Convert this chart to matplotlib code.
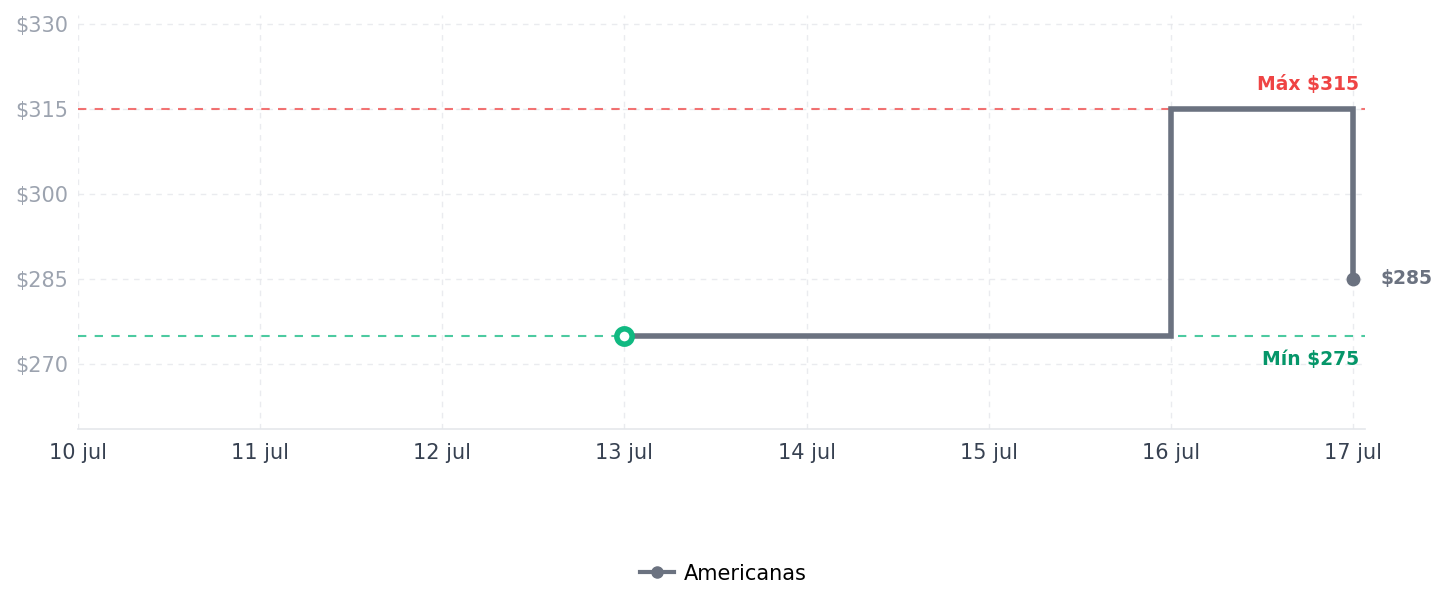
import matplotlib.pyplot as plt
import matplotlib.dates as mdates
from datetime import datetime

# Dados
dates = [datetime(2024, 7, 13), datetime(2024, 7, 16), datetime(2024, 7, 17)]
prices = [275, 315, 285]
store = 'Americanas'
max_price = 315
min_price = 275
min_date = datetime(2024, 7, 13)
x_ticks = [datetime(2024, 7, d) for d in range(10, 18)]
x_labels = ['10 jul', '11 jul', '12 jul', '13 jul', '14 jul', '15 jul', '16 jul', '17 jul']
y_ticks = [270, 285, 300, 315, 330]


def main():
    fig = plt.figure(figsize=(14.47, 6.07), dpi=100)
    ax = fig.add_axes([0.0539, 0.2932, 0.8894, 0.6818])

    line_color = '#6b7280'
    ax.plot(dates, prices, drawstyle='steps-post', color=line_color, lw=4,
            solid_joinstyle='miter', label=store, zorder=3)
    ax.plot(dates[-1], prices[-1], 'o', color=line_color, ms=9, zorder=4)
    # legenda com marcador
    ax.plot([], [], '-o', color=line_color, lw=3, ms=8, label=store)

    ax.axhline(max_price, color='#ef4444', ls=(0, (4, 4)), lw=1.5, alpha=0.75, zorder=2)
    ax.axhline(min_price, color='#10b981', ls=(0, (4, 4)), lw=1.5, alpha=0.75, zorder=2)
    ax.plot(min_date, min_price, 'o', ms=11, mfc='white', mec='#10b981', mew=4, zorder=5)

    x_right = mdates.date2num(datetime(2024, 7, 17)) + 0.066
    ax.text(mdates.num2date(x_right - 0.033), max_price + 4.3, f'Máx ${max_price}', color='#ef4444',
            fontsize=13.5, fontweight='bold', ha='right', va='center')
    ax.text(mdates.num2date(x_right - 0.033), min_price - 4.2, f'Mín ${min_price}', color='#059669',
            fontsize=13.5, fontweight='bold', ha='right', va='center')
    ax.annotate(f'${prices[-1]}', (dates[-1], prices[-1]), xytext=(20, 0), textcoords='offset points',
                color=line_color, fontsize=13.5, fontweight='bold', va='center', ha='left',
                annotation_clip=False)

    ax.set_xlim(mdates.date2num(datetime(2024, 7, 10)), x_right)
    ax.set_ylim(258.5, 331.6)
    ax.set_xticks(x_ticks)
    ax.set_xticklabels(x_labels)
    ax.set_yticks(y_ticks)
    ax.set_yticklabels([f'${v}' for v in y_ticks])
    ax.tick_params(axis='y', colors='#9ca3af', labelsize=15, length=0, pad=7)
    ax.tick_params(axis='x', colors='#374151', labelsize=15, length=0, pad=10)
    ax.grid(True, color='#e5e7eb', ls=(0, (4, 4)), lw=1, alpha=0.8, zorder=0)

    for s in ['top', 'right', 'left']:
        ax.spines[s].set_visible(False)
    ax.spines['bottom'].set_color('#e5e7eb')
    ax.spines['bottom'].set_linewidth(1.2)

    handles, labels = ax.get_legend_handles_labels()
    fig.legend(handles[1:], labels[1:], loc='center', bbox_to_anchor=(0.5, 0.055),
               frameon=False, fontsize=15, handlelength=1.6, handletextpad=0.5)

    fig.savefig('out.png', dpi=100)


if __name__ == '__main__':
    main()
